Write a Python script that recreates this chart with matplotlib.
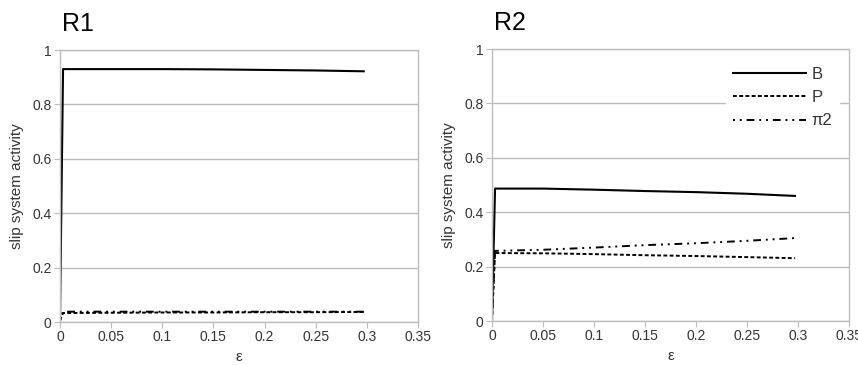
import matplotlib
matplotlib.use("Agg")
import matplotlib.pyplot as plt

# strain values
eps = [0.0, 0.003, 0.05, 0.1, 0.15, 0.2, 0.25, 0.297]

# R1 slip system activity
r1_B = [0.0, 0.930, 0.930, 0.930, 0.929, 0.927, 0.925, 0.922]
r1_P = [0.005, 0.033, 0.034, 0.035, 0.035, 0.036, 0.036, 0.037]
r1_pi2 = [0.005, 0.038, 0.038, 0.038, 0.038, 0.038, 0.038, 0.038]

# R2 slip system activity
r2_B = [0.0, 0.487, 0.487, 0.483, 0.478, 0.474, 0.468, 0.460]
r2_P = [0.0, 0.250, 0.249, 0.246, 0.242, 0.239, 0.235, 0.231]
r2_pi2 = [0.0, 0.258, 0.262, 0.270, 0.279, 0.286, 0.295, 0.305]

series_names = ["B", "P", "π2"]
xticks = [0, 0.05, 0.1, 0.15, 0.2, 0.25, 0.3, 0.35]
xticklabels = ["0", "0.05", "0.1", "0.15", "0.2", "0.25", "0.3", "0.35"]
yticks = [0, 0.2, 0.4, 0.6, 0.8, 1.0]
yticklabels = ["0", "0.2", "0.4", "0.6", "0.8", "1"]

plt.rcParams['font.family'] = ['Liberation Sans', 'DejaVu Sans']

fig = plt.figure(figsize=(8.58, 3.65), dpi=100)
ax1 = fig.add_axes([0.0699, 0.1178, 0.4172, 0.745])
ax2 = fig.add_axes([0.5734, 0.1205, 0.4161, 0.745])

grid_col = "#bdbdbd"
text_col = "#333333"
styles = [
    dict(color="black", lw=1.5, linestyle="-"),
    dict(color="black", lw=1.4, linestyle=(0, (2, 1.2))),
    dict(color="black", lw=1.4, linestyle=(0, (1, 2.5, 1, 2.5, 4, 2.5))),
]

def setup(ax, title):
    ax.set_xlim(0, 0.35)
    ax.set_ylim(0, 1)
    ax.set_xticks(xticks)
    ax.set_xticklabels(xticklabels)
    ax.set_yticks(yticks)
    ax.set_yticklabels(yticklabels)
    ax.tick_params(axis="x", length=4, color=grid_col, labelsize=10, labelcolor=text_col, pad=2)
    ax.tick_params(axis="y", length=4, color=grid_col, labelsize=10, labelcolor=text_col, pad=2)
    ax.grid(axis="y", color=grid_col, lw=1)
    ax.set_axisbelow(True)
    for sp in ax.spines.values():
        sp.set_color(grid_col)
        sp.set_linewidth(1)
    ax.set_ylabel("slip system activity", fontsize=11, color=text_col, labelpad=6)
    ax.set_xlabel("ε", fontsize=11, color=text_col, labelpad=4)
    ax.set_title(title, loc="left", fontsize=18, pad=14, x=0.005)

for ax, data, title in [(ax1, (r1_B, r1_P, r1_pi2), "R1"),
                        (ax2, (r2_B, r2_P, r2_pi2), "R2")]:
    setup(ax, title)
    for vals, name, st in zip(data, series_names, styles):
        ax.plot(eps, vals, label=name, **st)

leg = ax2.legend(loc="upper right", bbox_to_anchor=(0.995, 0.99), frameon=True,
                 fontsize=12, handlelength=4.4, handletextpad=0.3,
                 labelspacing=0.5, borderpad=0.4)
leg.get_frame().set_edgecolor("white")
leg.get_frame().set_facecolor("white")
leg.get_frame().set_alpha(1)
for t in leg.get_texts():
    t.set_color(text_col)

fig.savefig("out.png", dpi=100)
